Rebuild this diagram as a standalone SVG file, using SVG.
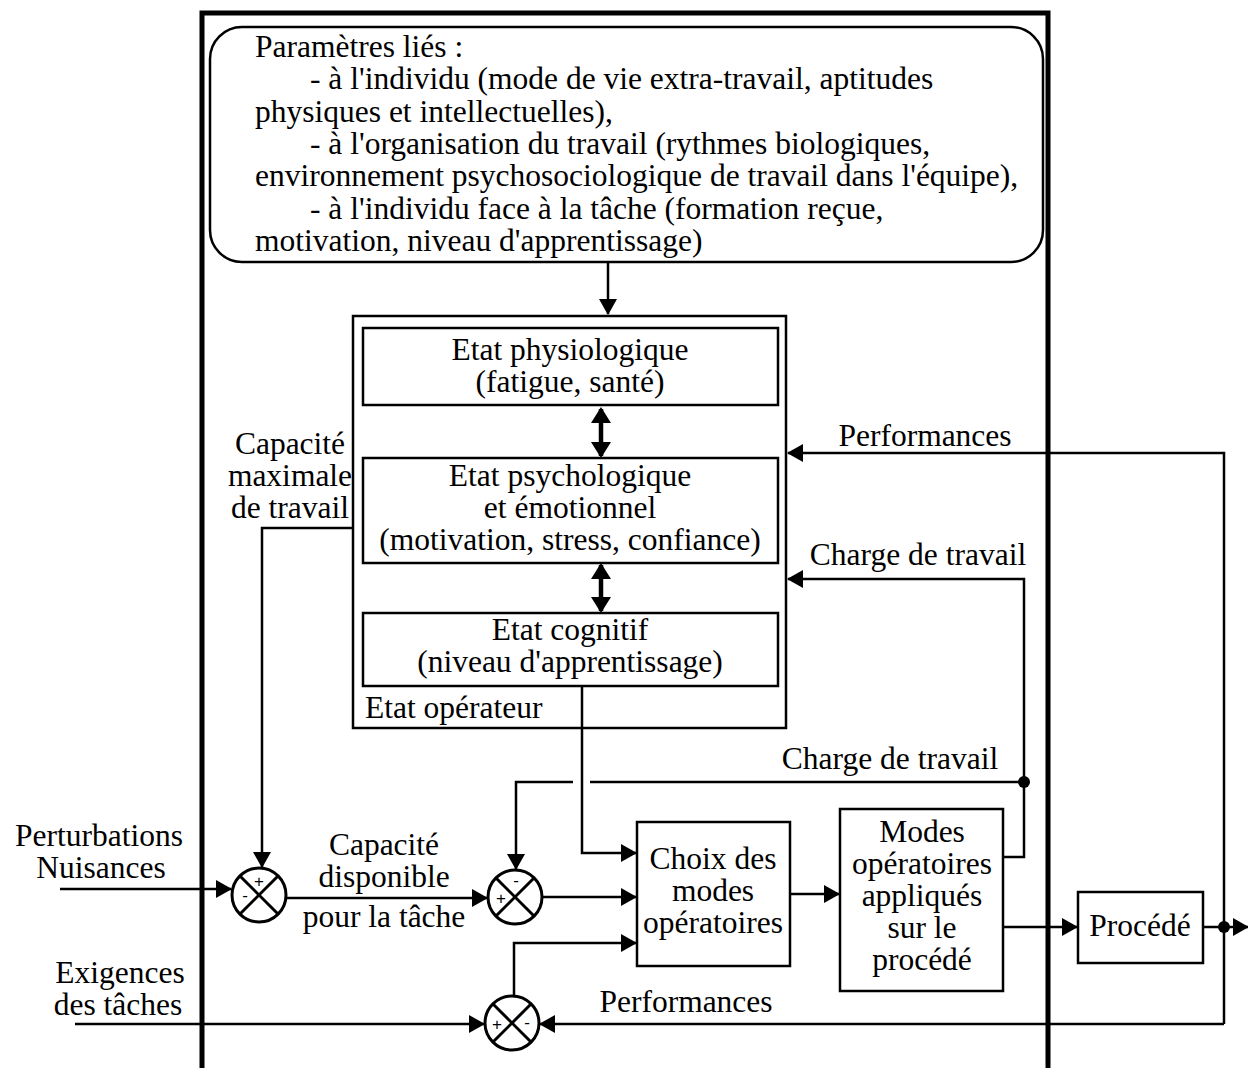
<svg xmlns="http://www.w3.org/2000/svg" width="1248" height="1068" viewBox="0 0 1248 1068">
<style>
text{font-family:"Liberation Serif","Times New Roman",serif;font-size:31.5px;fill:#000}
.c{text-anchor:middle}
.s{font-family:"Liberation Sans",Arial,sans-serif;font-size:17px;text-anchor:middle}
.box{fill:#fff;stroke:#000;stroke-width:2.5}
.ln{fill:none;stroke:#000;stroke-width:2.5}
.dbl{fill:none;stroke:#000;stroke-width:4.5}
.sum{fill:#fff;stroke:#000;stroke-width:3}
.x{stroke:#000;stroke-width:3}
</style>
<defs>
<marker id="ah" markerUnits="userSpaceOnUse" markerWidth="16" markerHeight="18" refX="15" refY="9" orient="auto-start-reverse" viewBox="0 0 16 18">
<path d="M0,0 L16,9 L0,18 z" fill="#000"/>
</marker>
<marker id="dh" markerUnits="userSpaceOnUse" markerWidth="16" markerHeight="20" refX="14" refY="10" orient="auto-start-reverse" viewBox="0 0 16 20">
<path d="M0,0 L16,10 L0,20 z" fill="#000"/>
</marker>
</defs>
<rect width="1248" height="1068" fill="#fff"/>
<g id="frame">
<path d="M202,1068 L202,13 L1048,13 L1048,1068" fill="none" stroke="#000" stroke-width="5"/>
</g>
<g id="params">
<rect class="box" x="210" y="27" width="833" height="235" rx="32"/>
<text x="255" y="57">Paramètres liés :</text>
<text x="310" y="89">- à l'individu (mode de vie extra-travail, aptitudes</text>
<text x="255" y="122">physiques et intellectuelles),</text>
<text x="310" y="154">- à l'organisation du travail (rythmes biologiques,</text>
<text x="255" y="186">environnement psychosociologique de travail dans l'équipe),</text>
<text x="310" y="219">- à l'individu face à la tâche (formation reçue,</text>
<text x="255" y="251">motivation, niveau d'apprentissage)</text>
</g>
<g id="etat-operateur">
<rect class="box" x="353" y="316" width="433" height="412"/>
<text x="365" y="718">Etat opérateur</text>
</g>
<g id="etat-physio">
<rect class="box" x="363" y="328" width="415" height="77"/>
<text class="c" x="570" y="360">Etat physiologique</text>
<text class="c" x="570" y="392">(fatigue, santé)</text>
</g>
<g id="etat-psycho">
<rect class="box" x="363" y="458" width="415" height="105"/>
<text class="c" x="570" y="486">Etat psychologique</text>
<text class="c" x="570" y="518">et émotionnel</text>
<text class="c" x="570" y="550">(motivation, stress, confiance)</text>
</g>
<g id="etat-cognitif">
<rect class="box" x="363" y="613" width="415" height="73"/>
<text class="c" x="570" y="640">Etat cognitif</text>
<text class="c" x="570" y="672">(niveau d'apprentissage)</text>
</g>
<g id="choix">
<rect class="box" x="637" y="822" width="153" height="144"/>
<text class="c" x="713" y="869">Choix des</text>
<text class="c" x="713" y="901">modes</text>
<text class="c" x="713" y="933">opératoires</text>
</g>
<g id="modes">
<rect class="box" x="840" y="809" width="163" height="182"/>
<text class="c" x="922" y="842">Modes</text>
<text class="c" x="922" y="874">opératoires</text>
<text class="c" x="922" y="906">appliqués</text>
<text class="c" x="922" y="938">sur le</text>
<text class="c" x="922" y="970">procédé</text>
</g>
<g id="procede">
<rect class="box" x="1078" y="892" width="125" height="71"/>
<text class="c" x="1140" y="936">Procédé</text>
</g>
<g id="sum1">
<circle class="sum" cx="259" cy="895" r="27"/>
<line class="x" x1="240" y1="876" x2="278" y2="914"/>
<line class="x" x1="278" y1="876" x2="240" y2="914"/>
<text class="s" x="259" y="887">+</text>
<text class="s" x="245" y="901">-</text>
</g>
<g id="sum2">
<circle class="sum" cx="515" cy="897" r="27"/>
<line class="x" x1="496" y1="878" x2="534" y2="916"/>
<line class="x" x1="534" y1="878" x2="496" y2="916"/>
<text class="s" x="516" y="886">-</text>
<text class="s" x="501" y="904">+</text>
</g>
<g id="sum3">
<circle class="sum" cx="512" cy="1023" r="27"/>
<line class="x" x1="493" y1="1004" x2="531" y2="1042"/>
<line class="x" x1="531" y1="1004" x2="493" y2="1042"/>
<text class="s" x="497" y="1030">+</text>
<text class="s" x="527" y="1028">-</text>
</g>
<g id="labels">
<text class="c" x="290" y="454">Capacité</text>
<text class="c" x="290" y="486">maximale</text>
<text class="c" x="290" y="518">de travail</text>
<text class="c" x="99" y="846">Perturbations</text>
<text class="c" x="101" y="878">Nuisances</text>
<text class="c" x="120" y="983">Exigences</text>
<text class="c" x="118" y="1015">des tâches</text>
<text class="c" x="384" y="855">Capacité</text>
<text class="c" x="384" y="887">disponible</text>
<text class="c" x="384" y="927">pour la tâche</text>
<text class="c" x="925" y="446">Performances</text>
<text class="c" x="918" y="565">Charge de travail</text>
<text class="c" x="890" y="769">Charge de travail</text>
<text class="c" x="686" y="1012">Performances</text>
</g>
<g id="connectors">
<path class="ln" d="M608,262 L608,314" marker-end="url(#ah)"/>
<path class="dbl" d="M601,409 L601,456" marker-start="url(#dh)" marker-end="url(#dh)"/>
<path class="dbl" d="M601,565 L601,611" marker-start="url(#dh)" marker-end="url(#dh)"/>
<path class="ln" d="M353,528 L262,528 L262,867" marker-end="url(#ah)"/>
<path class="ln" d="M582,686 L582,853 L636,853" marker-end="url(#ah)"/>
<path class="ln" d="M60,889 L231,889" marker-end="url(#ah)"/>
<path class="ln" d="M286,898 L487,898" marker-end="url(#ah)"/>
<path class="ln" d="M542,897 L636,897" marker-end="url(#ah)"/>
<path class="ln" d="M514,996 L514,943 L636,943" marker-end="url(#ah)"/>
<path class="ln" d="M75,1024 L484,1024" marker-end="url(#ah)"/>
<path class="ln" d="M1224,1024 L540,1024" marker-end="url(#ah)"/>
<path class="ln" d="M1224,1024 L1224,453 L788,453" marker-end="url(#ah)"/>
<path class="ln" d="M790,894 L839,894" marker-end="url(#ah)"/>
<path class="ln" d="M1003,927 L1077,927" marker-end="url(#ah)"/>
<path class="ln" d="M1203,927 L1248,927" marker-end="url(#ah)"/>
<path class="ln" d="M1003,857 L1024,857 L1024,579 L788,579" marker-end="url(#ah)"/>
<path class="ln" d="M1024,782 L590,782"/>
<path class="ln" d="M573,782 L516,782 L516,869" marker-end="url(#ah)"/>
<circle cx="1024" cy="782" r="6" fill="#000"/>
<circle cx="1224" cy="927" r="6" fill="#000"/>
</g>
</svg>
